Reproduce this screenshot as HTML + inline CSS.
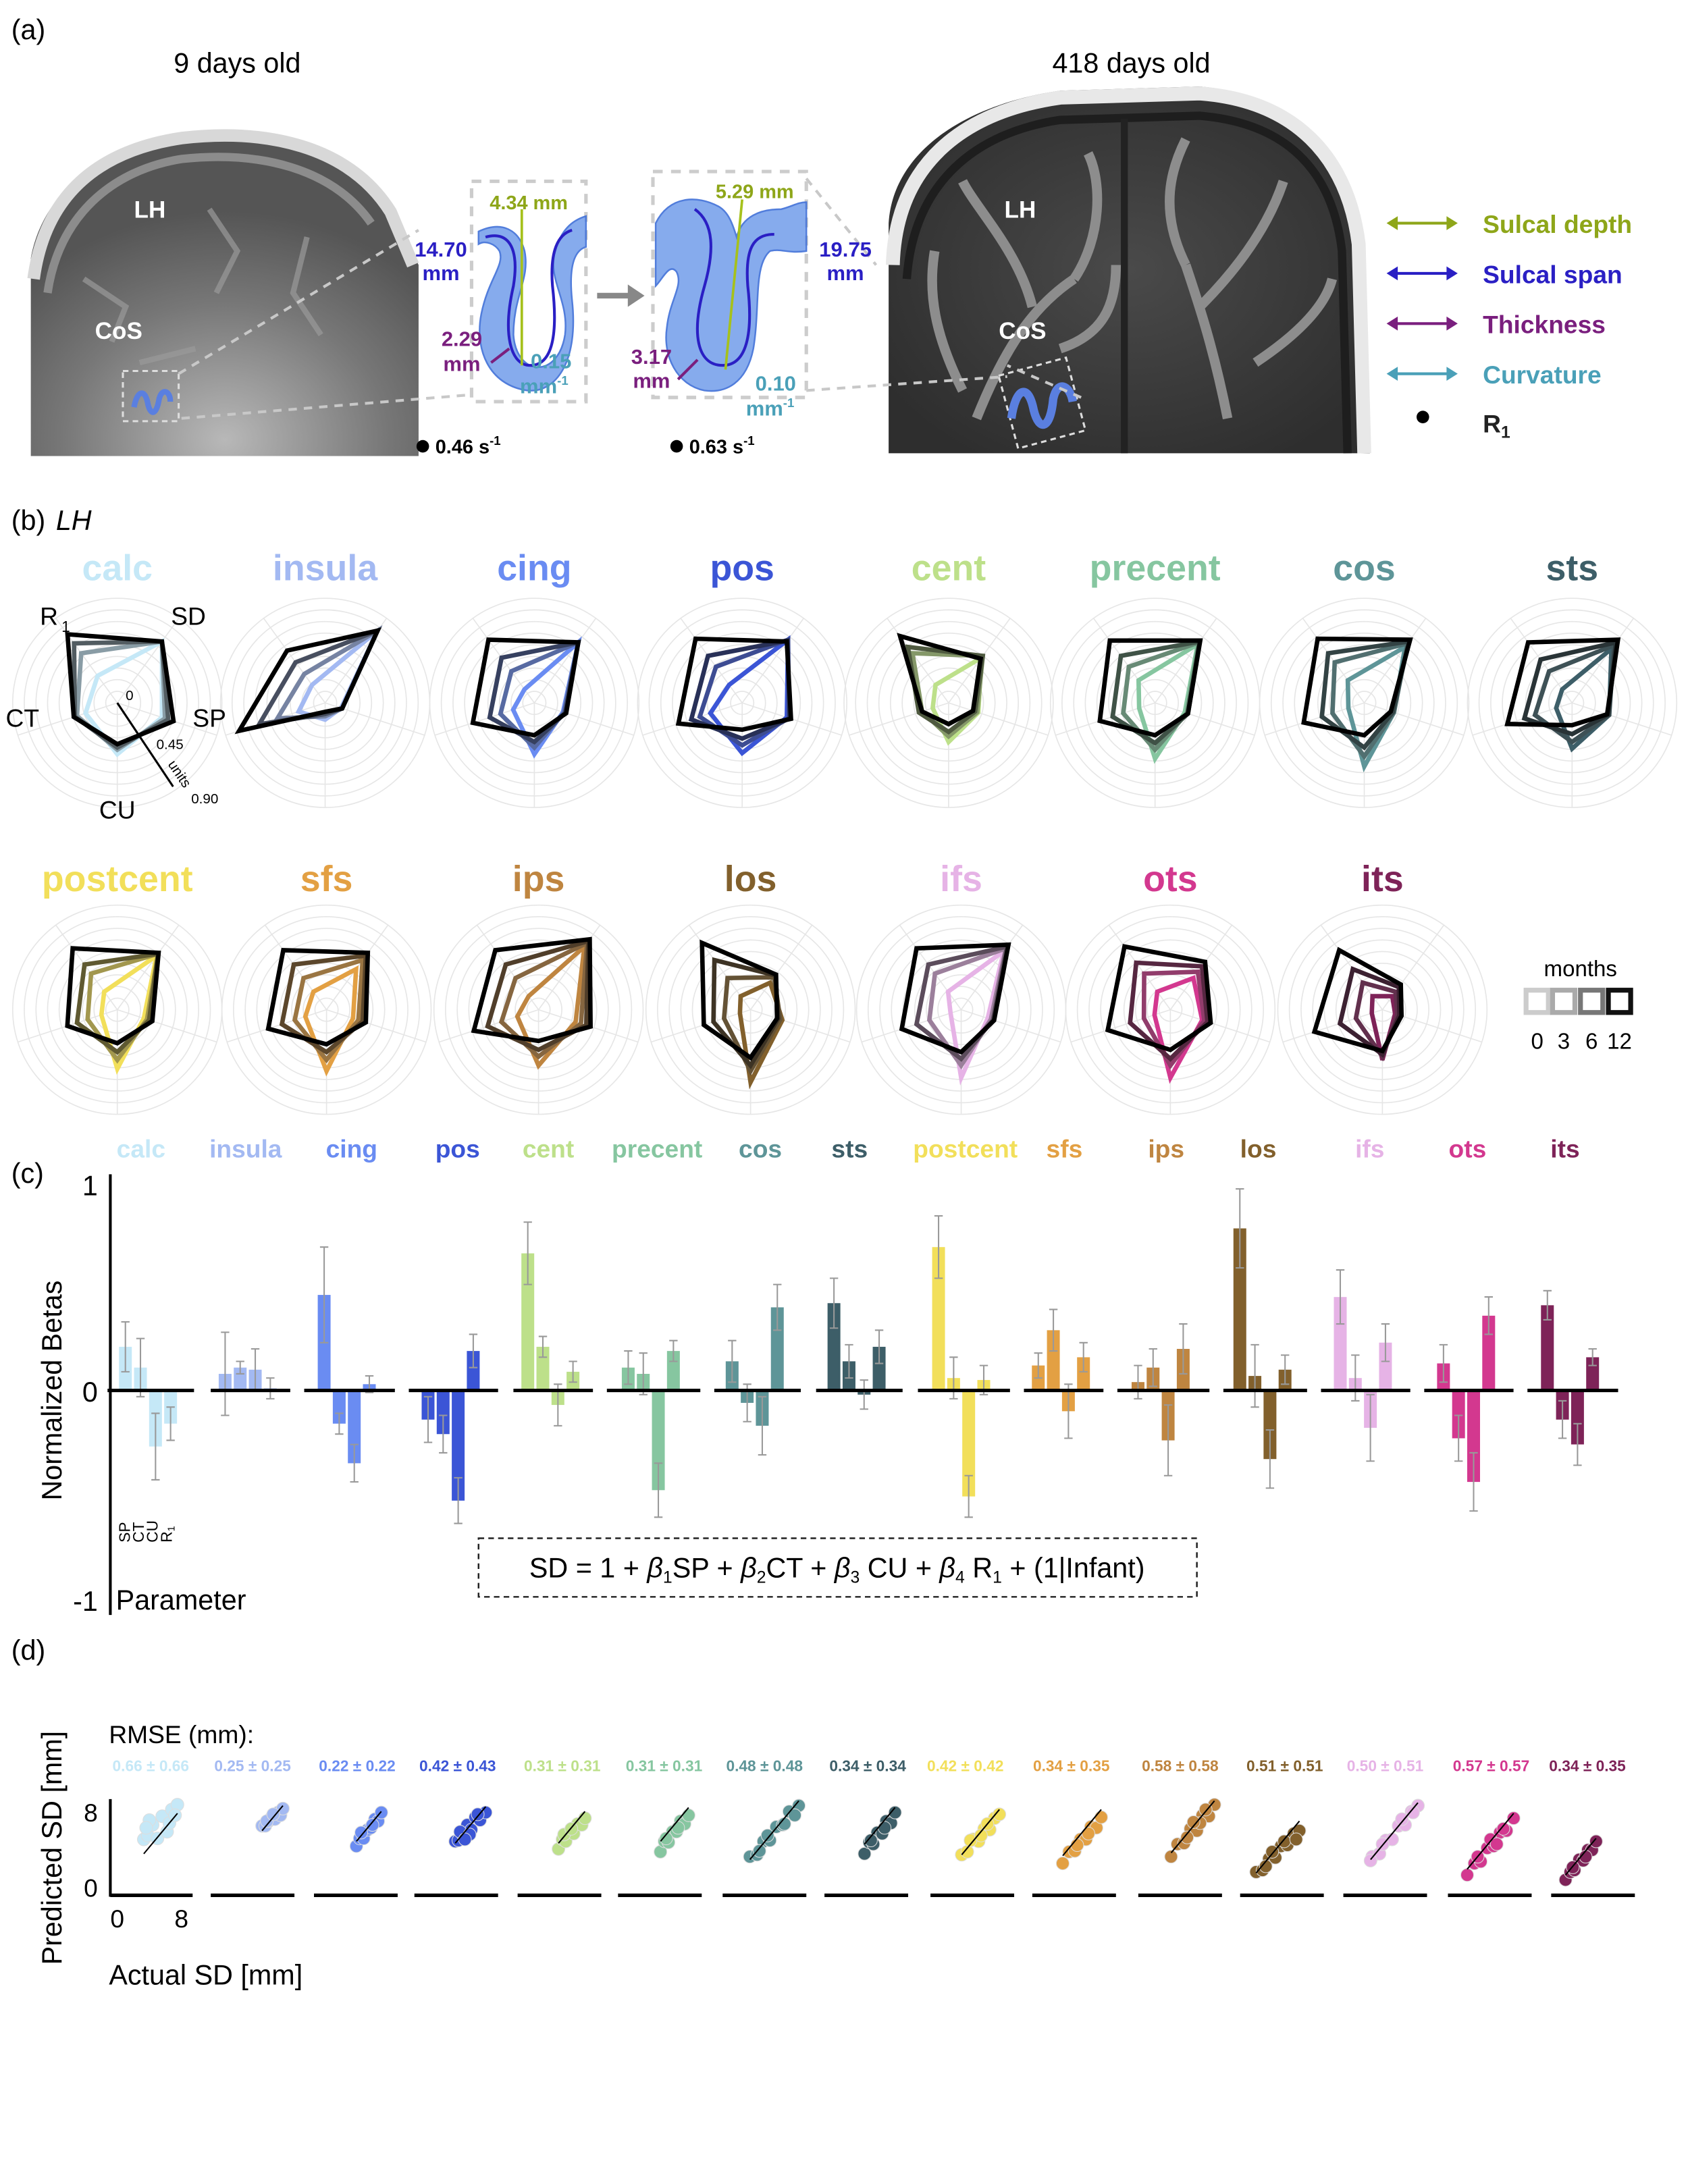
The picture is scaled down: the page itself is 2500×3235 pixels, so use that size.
<!DOCTYPE html>
<html><head><meta charset="utf-8"><style>
html,body{margin:0;padding:0;background:#fff;}
svg{display:block;font-family:"Liberation Sans",sans-serif;}
</style></head><body>
<svg id="fig" width="2500" height="3235" viewBox="0 0 1210 1566" xmlns="http://www.w3.org/2000/svg">
<defs>
<radialGradient id="lg1" cx="0.5" cy="0.95" r="0.7"><stop offset="0" stop-color="#b8b8b8"/><stop offset="0.6" stop-color="#777"/><stop offset="1" stop-color="#555"/></radialGradient>
<radialGradient id="lg2" cx="0.5" cy="0.5" r="0.6"><stop offset="0" stop-color="#4a4a4a"/><stop offset="1" stop-color="#2e2e2e"/></radialGradient>
</defs>
<!-- PART A -->
<g>
<text x="8" y="28" font-size="20">(a)</text>
<text x="170" y="52" font-size="20" text-anchor="middle">9 days old</text>
<text x="811" y="52" font-size="20" text-anchor="middle">418 days old</text>
<g>
<path d="M22,327 L22,185 C30,140 70,105 130,95 C190,88 250,100 282,150 L300,190 L300,327 Z" fill="url(#lg1)"/>
<path d="M24,200 C32,140 70,108 130,99 C190,92 250,104 280,152 L296,190" fill="none" stroke="#d8d8d8" stroke-width="9"/>
<path d="M34,210 C42,155 80,122 130,114 C185,108 238,120 266,160" fill="none" stroke="#8c8c8c" stroke-width="6"/>
<path d="M60,200 l30,20 l-10,25 M150,150 l20,30 l-15,30 M220,170 l-10,40 l20,30 M100,260 l40,-10" stroke="#9a9a9a" stroke-width="4" fill="none" opacity="0.7"/>
<text x="96" y="156" font-size="17" font-weight="bold" fill="#fff">LH</text>
<text x="68" y="243" font-size="17" font-weight="bold" fill="#fff">CoS</text>
<rect x="88" y="266" width="40" height="36" fill="none" stroke="#ddd" stroke-dasharray="4,3" stroke-width="1.5"/>
<path d="M96,292 c2,-12 8,-14 10,-2 c2,8 6,8 8,-4 c2,-8 8,-6 8,2" fill="none" stroke="#5a7fe0" stroke-width="4"/>
</g>
<g>
<path d="M637,325 L637,160 C640,110 690,75 760,65 L860,62 C930,68 970,110 978,170 L982,325 Z" fill="url(#lg2)"/>
<path d="M640,190 C642,118 690,80 760,70 L860,67 C928,72 966,112 974,175 L978,325" fill="none" stroke="#e8e8e8" stroke-width="10"/>
<path d="M650,200 C655,130 700,95 760,86 L860,83 C920,88 955,120 962,180 L966,325" fill="none" stroke="#1e1e1e" stroke-width="6"/>
<line x1="806" y1="85" x2="806" y2="325" stroke="#222" stroke-width="5"/>
<path d="M700,300 C720,250 740,220 770,200 M740,220 C730,180 700,150 690,130 M770,200 C790,170 790,130 780,110 M760,250 C790,240 800,220 800,190 M880,300 C870,250 860,220 850,190 M860,220 C890,190 910,160 920,130 M850,190 C830,150 840,120 850,100 M900,260 C930,240 950,220 955,200 M690,280 C670,240 665,210 670,180" stroke="#8d8d8d" stroke-width="7" fill="none"/>
<text x="720" y="156" font-size="17" font-weight="bold" fill="#fff">LH</text>
<text x="716" y="243" font-size="17" font-weight="bold" fill="#fff">CoS</text>
<rect x="722" y="262" width="50" height="54" fill="none" stroke="#ddd" stroke-dasharray="4,3" stroke-width="1.5" transform="rotate(-15 747 289)"/>
<path d="M725,300 c3,-22 12,-26 16,-6 c4,16 12,14 14,-8 c3,-14 12,-10 14,2" fill="none" stroke="#5a7fe0" stroke-width="6"/>
</g>
<g stroke="#c8c8c8" stroke-width="2" stroke-dasharray="6,5" fill="none">
<line x1="128" y1="268" x2="300" y2="165"/><line x1="130" y1="300" x2="338" y2="283"/>
<line x1="578" y1="128" x2="628" y2="190"/><line x1="578" y1="280" x2="722" y2="270"/>
<line x1="775" y1="285" x2="722" y2="262"/>
</g>
<g>
<rect x="338" y="130" width="82" height="158" fill="none" stroke="#ccc" stroke-width="2.5" stroke-dasharray="7,6"/>
<path d="M343,166 C360,158 372,165 376,180 C380,200 368,212 368,240 C370,270 400,272 405,240 C408,215 392,200 398,180 C402,165 410,158 420,155 L420,177 C410,180 408,195 410,215 C415,260 398,282 378,280 C350,276 340,250 345,225 C350,200 362,190 358,180 C355,175 348,172 343,175 Z" fill="#7aa2ec" stroke="#3f6fd8" stroke-width="1.2" opacity="0.9"/>
<path d="M348,170 C366,165 372,180 368,205 C360,240 366,262 380,262 C396,262 400,240 396,205 C394,180 400,168 410,165" fill="none" stroke="#2a1fc4" stroke-width="2"/>
<line x1="374" y1="262" x2="374" y2="150" stroke="#a6c11c" stroke-width="1.8"/>
<line x1="352" y1="260" x2="365" y2="250" stroke="#7a1f7e" stroke-width="2"/>
<text x="379" y="150" font-size="14" font-weight="bold" fill="#8ea619" text-anchor="middle">4.34 mm</text>
<text x="316" y="184" font-size="15" font-weight="bold" fill="#2a1fc4" text-anchor="middle">14.70</text>
<text x="316" y="201" font-size="15" font-weight="bold" fill="#2a1fc4" text-anchor="middle">mm</text>
<text x="331" y="248" font-size="15" font-weight="bold" fill="#7a1f7e" text-anchor="middle">2.29</text>
<text x="331" y="266" font-size="15" font-weight="bold" fill="#7a1f7e" text-anchor="middle">mm</text>
<text x="395" y="264" font-size="15" font-weight="bold" fill="#4aa0b8" text-anchor="middle">0.15</text>
<text x="390" y="282" font-size="15" font-weight="bold" fill="#4aa0b8" text-anchor="middle">mm<tspan font-size="9" dy="-6">-1</tspan></text>
</g>
<path d="M428,212 L452,212" stroke="#888" stroke-width="4"/>
<path d="M450,204 L462,212 L450,220 Z" fill="#888"/>
<g>
<rect x="468" y="123" width="110" height="162" fill="none" stroke="#ccc" stroke-width="2.5" stroke-dasharray="7,6"/>
<path d="M470,160 C480,140 500,140 515,148 C522,152 525,160 528,170 C532,155 545,150 560,150 C568,148 572,145 578,145 L578,180 C565,182 560,178 552,180 C540,190 545,220 540,250 C535,275 520,282 505,280 C485,276 475,255 478,235 C480,215 490,205 485,195 C480,188 475,200 470,205 Z" fill="#7aa2ec" stroke="#3f6fd8" stroke-width="1.2" opacity="0.9"/>
<path d="M498,150 C512,160 512,180 505,205 C495,240 500,262 518,262 C535,262 540,240 536,205 C534,178 540,168 555,168" fill="none" stroke="#2a1fc4" stroke-width="2"/>
<line x1="520" y1="265" x2="532" y2="143" stroke="#a6c11c" stroke-width="1.8"/>
<line x1="486" y1="272" x2="500" y2="258" stroke="#7a1f7e" stroke-width="2"/>
<text x="541" y="142" font-size="14" font-weight="bold" fill="#8ea619" text-anchor="middle">5.29 mm</text>
<text x="606" y="184" font-size="15" font-weight="bold" fill="#2a1fc4" text-anchor="middle">19.75</text>
<text x="606" y="201" font-size="15" font-weight="bold" fill="#2a1fc4" text-anchor="middle">mm</text>
<text x="467" y="261" font-size="15" font-weight="bold" fill="#7a1f7e" text-anchor="middle">3.17</text>
<text x="467" y="278" font-size="15" font-weight="bold" fill="#7a1f7e" text-anchor="middle">mm</text>
<text x="556" y="280" font-size="15" font-weight="bold" fill="#4aa0b8" text-anchor="middle">0.10</text>
<text x="552" y="298" font-size="15" font-weight="bold" fill="#4aa0b8" text-anchor="middle">mm<tspan font-size="9" dy="-6">-1</tspan></text>
</g>
<circle cx="303" cy="320" r="4.5" fill="#000"/>
<text x="312" y="325" font-size="14" font-weight="bold">0.46 s<tspan font-size="9" dy="-6">-1</tspan></text>
<circle cx="485" cy="320" r="4.5" fill="#000"/>
<text x="494" y="325" font-size="14" font-weight="bold">0.63 s<tspan font-size="9" dy="-6">-1</tspan></text>
<g font-size="18" font-weight="bold">
<g><line x1="996" y1="160" x2="1043" y2="160" stroke="#8ea619" stroke-width="2"/><path d="M994,160 l8,-5 v10z M1045,160 l-8,-5 v10z" fill="#8ea619"/><text x="1063" y="167" fill="#8ea619">Sulcal depth</text></g>
<g><line x1="996" y1="196" x2="1043" y2="196" stroke="#2a1fc4" stroke-width="2"/><path d="M994,196 l8,-5 v10z M1045,196 l-8,-5 v10z" fill="#2a1fc4"/><text x="1063" y="203" fill="#2a1fc4">Sulcal span</text></g>
<g><line x1="996" y1="232" x2="1043" y2="232" stroke="#7a1f7e" stroke-width="2"/><path d="M994,232 l8,-5 v10z M1045,232 l-8,-5 v10z" fill="#7a1f7e"/><text x="1063" y="239" fill="#7a1f7e">Thickness</text></g>
<g><line x1="996" y1="268" x2="1043" y2="268" stroke="#4aa0b8" stroke-width="2"/><path d="M994,268 l8,-5 v10z M1045,268 l-8,-5 v10z" fill="#4aa0b8"/><text x="1063" y="275" fill="#4aa0b8">Curvature</text></g>
<g><circle cx="1020" cy="299" r="4.5" fill="#000"/><text x="1063" y="310" fill="#222">R<tspan font-size="12" dy="4">1</tspan></text></g>
</g>
</g>
<!-- PART B -->
<g id="partB">
<text x="8" y="380" font-size="20">(b)</text>
<text x="40" y="380" font-size="20" font-style="italic">LH</text>
<g>
<text x="1133" y="700" font-size="16" text-anchor="middle">months</text>
<rect x="1094" y="710" width="16" height="16" fill="none" stroke="#ccc" stroke-width="3.5"/>
<rect x="1113" y="710" width="16" height="16" fill="none" stroke="#aaa" stroke-width="3.5"/>
<rect x="1133" y="710" width="16" height="16" fill="none" stroke="#777" stroke-width="3.5"/>
<rect x="1153" y="710" width="16" height="16" fill="none" stroke="#111" stroke-width="3.5"/>
<text x="1102" y="752" font-size="16" text-anchor="middle">0</text>
<text x="1121" y="752" font-size="16" text-anchor="middle">3</text>
<text x="1141" y="752" font-size="16" text-anchor="middle">6</text>
<text x="1161" y="752" font-size="16" text-anchor="middle">12</text>
</g>
</g>
<!-- PART C -->
<g id="partC">
<text x="8" y="848" font-size="20">(c)</text>
<line x1="79" y1="842" x2="79" y2="1158" stroke="#000" stroke-width="2"/>
<text x="70" y="857" font-size="20" text-anchor="end">1</text>
<text x="70" y="1005" font-size="20" text-anchor="end">0</text>
<text x="70" y="1155" font-size="20" text-anchor="end">-1</text>
<text transform="translate(44,997) rotate(-90)" font-size="20" text-anchor="middle">Normalized Betas</text>
<g font-size="11">
<text transform="translate(93,1106) rotate(-90)">SP</text>
<text transform="translate(103,1106) rotate(-90)">CT</text>
<text transform="translate(113,1106) rotate(-90)">CU</text>
<text transform="translate(123,1106) rotate(-90)">R<tspan font-size="7" dy="2">1</tspan></text>
</g>
<text x="83" y="1154" font-size="20">Parameter</text>
<rect x="343" y="1103" width="515" height="42" fill="none" stroke="#222" stroke-width="1.2" stroke-dasharray="4,3"/>
<text x="600" y="1131" font-size="20" text-anchor="middle">SD = 1 + <tspan font-style="italic">β</tspan><tspan font-size="12" dy="4">1</tspan><tspan dy="-4">SP + </tspan><tspan font-style="italic">β</tspan><tspan font-size="12" dy="4">2</tspan><tspan dy="-4">CT + </tspan><tspan font-style="italic">β</tspan><tspan font-size="12" dy="4">3</tspan><tspan dy="-4"> CU + </tspan><tspan font-style="italic">β</tspan><tspan font-size="12" dy="4">4</tspan><tspan dy="-4"> R</tspan><tspan font-size="12" dy="4">1</tspan><tspan dy="-4"> + (1|Infant)</tspan></text>
</g>
<!-- PART D -->
<g id="partD">
<text x="8" y="1190" font-size="20">(d)</text>
<text x="78" y="1250" font-size="18">RMSE (mm):</text>
<line x1="79" y1="1290" x2="79" y2="1360" stroke="#000" stroke-width="2"/>
<text x="70" y="1306" font-size="18" text-anchor="end">8</text>
<text x="70" y="1360" font-size="18" text-anchor="end">0</text>
<text x="84" y="1382" font-size="18" text-anchor="middle">0</text>
<text x="130" y="1382" font-size="18" text-anchor="middle">8</text>
<text transform="translate(44,1325) rotate(-90)" font-size="20" text-anchor="middle">Predicted SD [mm]</text>
<text x="78" y="1423" font-size="20">Actual SD [mm]</text>
</g>
</svg>
<script>
const regions = ["calc","insula","cing","pos","cent","precent","cos","sts","postcent","sfs","ips","los","ifs","ots","its"];
const regionColors = ["#c5e8f7","#a3b9f2","#6a8cf2","#3b55d6","#bde08a","#86c6a0","#5e9598","#3d5e68","#f2df5a","#e3a043","#bf8540","#82602c","#e6b3e6","#d3388f","#7e2358"];
const radarAxes = ["R1","SD","SP","CU","CT"];
const radarM0 = [[0.3,0.68,0.42,0.46,0.3],[0.2,0.8,0.15,0.15,0.25],[0.15,0.67,0.27,0.46,0.2],[0.2,0.7,0.42,0.45,0.3],[0.2,0.5,0.28,0.35,0.15],[0.25,0.65,0.28,0.5,0.15],[0.25,0.62,0.28,0.57,0.15],[0.15,0.6,0.35,0.41,0.15],[0.2,0.6,0.25,0.53,0.15],[0.2,0.45,0.25,0.55,0.2],[0.15,0.7,0.35,0.5,0.2],[0.15,0.3,0.3,0.65,0.1],[0.2,0.65,0.25,0.61,0.1],[0.2,0.35,0.3,0.61,0.15],[0.15,0.15,0.12,0.45,0.1]];
const radarM3 = [[0.55,0.68,0.45,0.42,0.38],[0.32,0.8,0.16,0.12,0.45],[0.35,0.67,0.28,0.4,0.32],[0.4,0.7,0.44,0.38,0.4],[0.55,0.52,0.27,0.3,0.25],[0.4,0.67,0.3,0.42,0.3],[0.45,0.66,0.28,0.48,0.3],[0.35,0.64,0.35,0.35,0.35],[0.4,0.62,0.28,0.45,0.28],[0.35,0.55,0.3,0.45,0.3],[0.35,0.74,0.4,0.42,0.35],[0.35,0.36,0.28,0.55,0.25],[0.4,0.68,0.28,0.5,0.3],[0.4,0.42,0.32,0.5,0.25],[0.3,0.2,0.14,0.42,0.25]];
const radarM6 = [[0.66,0.68,0.48,0.4,0.4],[0.45,0.8,0.16,0.1,0.62],[0.5,0.67,0.29,0.35,0.42],[0.52,0.69,0.45,0.32,0.48],[0.62,0.52,0.25,0.26,0.28],[0.52,0.68,0.31,0.36,0.4],[0.55,0.68,0.27,0.4,0.4],[0.48,0.67,0.34,0.28,0.45],[0.5,0.62,0.3,0.38,0.38],[0.5,0.6,0.34,0.38,0.42],[0.5,0.76,0.45,0.36,0.48],[0.55,0.38,0.26,0.5,0.35],[0.5,0.7,0.3,0.44,0.42],[0.52,0.48,0.35,0.44,0.38],[0.45,0.25,0.16,0.4,0.4]];
const radarM12 = [[0.76,0.68,0.53,0.37,0.41],[0.58,0.8,0.16,0.08,0.81],[0.7,0.67,0.3,0.29,0.58],[0.71,0.68,0.46,0.24,0.6],[0.74,0.49,0.23,0.19,0.25],[0.69,0.69,0.31,0.29,0.52],[0.71,0.7,0.25,0.29,0.57],[0.67,0.7,0.33,0.2,0.61],[0.68,0.63,0.33,0.3,0.47],[0.66,0.63,0.37,0.31,0.55],[0.66,0.78,0.49,0.28,0.61],[0.74,0.39,0.25,0.43,0.44],[0.68,0.72,0.31,0.38,0.56],[0.7,0.53,0.38,0.36,0.59],[0.66,0.28,0.18,0.37,0.64]];
const betaSP = [0.21,0.08,0.46,-0.14,0.66,0.11,0.14,0.42,0.69,0.12,0.04,0.78,0.45,0.13,0.41];
const betaCT = [0.11,0.11,-0.16,-0.21,0.21,0.08,-0.06,0.14,0.06,0.29,0.11,0.07,0.06,-0.23,-0.14];
const betaCU = [-0.27,0.1,-0.35,-0.53,-0.07,-0.48,-0.17,-0.02,-0.51,-0.1,-0.24,-0.33,-0.18,-0.44,-0.26];
const betaR1 = [-0.16,0.01,0.03,0.19,0.09,0.19,0.4,0.21,0.05,0.16,0.2,0.1,0.23,0.36,0.16];
const errSP = [0.12,0.2,0.23,0.11,0.15,0.08,0.1,0.12,0.15,0.06,0.08,0.19,0.13,0.09,0.07];
const errCT = [0.14,0.03,0.05,0.09,0.05,0.1,0.09,0.08,0.1,0.1,0.09,0.15,0.11,0.11,0.09];
const errCU = [0.16,0.1,0.09,0.11,0.1,0.13,0.14,0.07,0.1,0.13,0.17,0.14,0.16,0.14,0.1];
const errR1 = [0.08,0.05,0.04,0.08,0.05,0.05,0.11,0.08,0.07,0.07,0.12,0.07,0.09,0.09,0.04];
const rmseLabels = ["0.66 ± 0.66","0.25 ± 0.25","0.22 ± 0.22","0.42 ± 0.43","0.31 ± 0.31","0.31 ± 0.31","0.48 ± 0.48","0.34 ± 0.34","0.42 ± 0.42","0.34 ± 0.35","0.58 ± 0.58","0.51 ± 0.51","0.50 ± 0.51","0.57 ± 0.57","0.34 ± 0.35"];
const actualSD = [[3.3,3.8,4.4,5.0,5.6,6.2,6.8,7.5,4.0,6.5,3.6,7.2],[5.7,6.1,6.5,6.9,7.3,7.7,8.0,8.3,6.3,7.1],[4.6,5.0,5.5,6.0,6.4,6.9,7.3,7.7,5.2,6.6],[4.4,4.8,5.4,5.9,6.4,6.9,7.5,8.2,5.0,6.2,7.2,5.6],[4.4,4.9,5.3,5.8,6.3,6.8,7.3,7.7,5.1,6.0],[4.6,5.1,5.6,6.1,6.6,7.1,7.6,8.1,5.3,6.8],[2.7,3.6,4.4,5.2,6.0,6.8,7.6,8.8,4.9,7.0,8.3,3.9],[4.3,4.9,5.4,5.9,6.5,7.0,7.6,8.1,5.1,6.8],[3.2,3.9,4.6,5.3,6.0,6.7,7.3,7.9,4.3,6.4,5.6],[3.1,3.9,4.6,5.3,6.0,6.6,7.3,7.9,4.9,6.3],[3.4,4.2,5.0,5.8,6.6,7.3,8.1,8.8,5.4,7.0,6.2,7.7],[1.3,2.1,2.9,3.7,4.4,5.2,6.0,6.7,2.5,4.8,3.3,6.3],[2.9,3.8,4.6,5.4,6.2,7.0,7.8,8.6,4.2,6.6,2.7,8.0],[1.7,2.6,3.4,4.2,5.0,5.8,6.6,7.5,3.0,4.6,5.4,6.2],[1.1,1.7,2.2,2.8,3.3,3.9,4.4,4.9,2.0,3.6]];
const predictedSD = [[4.8,5.2,6.3,4.9,7.2,5.6,7.9,8.4,6.8,6.5,6.0,7.3],[6.2,6.2,6.7,7.1,6.9,7.6,7.3,8.0,6.7,7.4],[4.1,4.9,4.9,5.8,6.0,6.9,6.7,7.6,5.5,6.3],[4.6,4.7,5.2,6.3,5.8,7.1,6.8,7.6,5.6,5.3,7.4,4.8],[3.8,4.8,4.6,5.6,5.4,6.4,6.3,7.0,5.3,5.9],[3.5,4.6,4.5,5.6,5.6,6.7,6.4,7.3,4.9,6.0],[3.0,3.2,4.6,4.7,6.1,6.3,7.7,8.3,5.2,6.4,7.3,3.6],[3.3,4.5,4.3,5.5,5.4,6.7,6.5,7.6,4.7,6.0],[3.2,3.5,4.8,4.6,5.9,5.8,7.0,7.4,4.7,6.4,5.2],[2.3,3.5,3.6,4.8,4.8,6.1,6.0,7.1,4.2,5.4],[3.0,4.3,4.4,5.9,5.7,7.3,7.2,8.4,5.0,6.5,6.6,7.9],[1.4,1.6,2.8,2.9,4.1,4.2,5.4,5.7,2.0,4.6,3.5,4.8],[3.0,3.3,4.7,4.8,6.2,6.3,7.7,8.3,4.3,6.9,2.6,7.6],[1.1,2.3,2.5,3.9,4.1,5.5,5.7,7.0,3.0,4.8,4.3,5.9],[0.6,1.4,1.6,2.7,2.6,3.7,3.7,4.6,1.9,3.0]];

const NS = "http://www.w3.org/2000/svg";
function mk(parent, tag, attrs, name){
  const e = document.createElementNS(NS, tag);
  for (const k in attrs) e.setAttribute(k, attrs[k]);
  
  
  parent.appendChild(e);
  return e;
}
function mix(hex, hex2, t){
  const a=[1,3,5].map(i=>parseInt(hex.substr(i,2),16)), b=[1,3,5].map(i=>parseInt(hex2.substr(i,2),16));
  return "rgb("+a.map((v,i)=>Math.round(v*(1-t)+b[i]*t)).join(",")+")";
}

/* ---------- Part B radars ---------- */
const gB = document.getElementById('partB');
const radarCX = [84,233,383,532,680,828,978,1127,84,234,386,538,689,839,991];
const radarCY = [504,504,504,504,504,504,504,504,724,724,724,724,724,724,724];
const titleY = [416,416,416,416,416,416,416,416,639,639,639,639,639,639,639];
const axisAng = [126,54,-18,-90,198].map(d=>d*Math.PI/180);
const pxPerUnit = 80;
function rx(cx, a, v){ return cx + Math.cos(axisAng[a])*v*pxPerUnit; }
function ry(cy, a, v){ return cy - Math.sin(axisAng[a])*v*pxPerUnit; }
regions.forEach((r,i)=>{
  const g = mk(gB,'g',{},'radar-'+r);
  const cx = radarCX[i], cy = radarCY[i];
  for (let k=1;k<=9;k++){
    mk(g,'circle',{cx:cx,cy:cy,r:(k*75/9).toFixed(1),fill:'none',stroke:'#e6e6e6','stroke-width':0.8},'radar-ring');
  }
  for (let a=0;a<5;a++){
    mk(g,'line',{x1:cx,y1:cy,x2:rx(cx,a,75/80),y2:ry(cy,a,75/80),stroke:'#e6e6e6','stroke-width':0.8},'radar-spoke');
  }
  const t = mk(g,'text',{x:cx,y:titleY[i],'font-size':26,'font-weight':'bold','text-anchor':'middle',fill:regionColors[i]},'radar-title-'+r);
  t.textContent = r;
  const sets = [radarM0[i],radarM3[i],radarM6[i],radarM12[i]];
  const cols = [regionColors[i], mix(regionColors[i],'#404040',0.45), mix(regionColors[i],'#202020',0.7), '#000'];
  const mnames = ['0','3','6','12'];
  sets.forEach((vals,m)=>{
    const pts = vals.map((v,a)=>rx(cx,a,v).toFixed(1)+","+ry(cy,a,v).toFixed(1)).join(" ");
    mk(g,'polygon',{points:pts,fill:'none',stroke:cols[m],'stroke-width':3.2,'stroke-linejoin':'miter'},'radar-polygon-'+r+'-month-'+mnames[m]);
  });
});
(function(){
  const g = mk(gB,'g',{'font-size':18},'radar-axis-labels');
  const labs = [["R",35,448],["SD",135,448],["SP",150,521],["CU",84,587],["CT",16,521]];
  labs.forEach(l=>{ const t = mk(g,'text',{x:l[1],y:l[2],'text-anchor':'middle'},'axis-label-'+l[0].toLowerCase()); t.textContent=l[0]; });
  const s = mk(g,'text',{x:44,y:453,'font-size':11},'axis-label-r1-subscript'); s.textContent='1';
  mk(g,'line',{x1:84,y1:504,x2:124,y2:564,stroke:'#000','stroke-width':1.5},'radar-scale-line');
  const z = mk(g,'text',{x:90,y:502,'font-size':10},'radar-scale-0'); z.textContent='0';
  const h = mk(g,'text',{x:112,y:537,'font-size':10},'radar-scale-045'); h.textContent='0.45';
  const n = mk(g,'text',{x:137,y:576,'font-size':10},'radar-scale-090'); n.textContent='0.90';
  const u = mk(g,'text',{'font-size':10,transform:'translate(120,548) rotate(56)'},'radar-scale-units'); u.textContent='units';
})();

/* ---------- Part C bars ---------- */
const gC = document.getElementById('partC');
const y0 = 997, pxBeta = 149;
function yb(v){ return y0 - v*pxBeta; }
const segStart = [77,151,218,293,368,435,512,585,658,734,801,877,947,1021,1095];
const segEnd = [139,208,283,357,425,502,574,647,724,791,867,937,1011,1085,1160];
const labelX = [101,176,252,328,393,471,545,609,692,763,836,902,982,1052,1122];
const paramNames = ['sp','ct','cu','r1'];
regions.forEach((r,i)=>{
  const g = mk(gC,'g',{},'beta-group-'+r);
  const t = mk(g,'text',{x:labelX[i],y:830,'font-size':18,'font-weight':'bold','text-anchor':'middle',fill:regionColors[i]},'beta-label-'+r);
  t.textContent = r;
  const center = (segStart[i]+segEnd[i])/2 - 2;
  const vals = [betaSP[i],betaCT[i],betaCU[i],betaR1[i]];
  const errs = [errSP[i],errCT[i],errCU[i],errR1[i]];
  vals.forEach((v,k)=>{
    const bx = center + (k-1.5)*10.8;
    mk(g,'rect',{x:(bx-4.6).toFixed(1),y:Math.min(yb(v),y0).toFixed(1),width:9.2,height:Math.abs(yb(v)-y0).toFixed(1),fill:regionColors[i]},'bar-'+r+'-'+paramNames[k]);
    const e1 = yb(v+errs[k]), e2 = yb(v-errs[k]);
    mk(g,'path',{d:`M${bx},${e1}V${e2}M${bx-3},${e1}h6M${bx-3},${e2}h6`,stroke:'#999','stroke-width':1,fill:'none'},'errorbar-'+r+'-'+paramNames[k]);
  });
  mk(g,'line',{x1:segStart[i],y1:y0,x2:segEnd[i],y2:y0,stroke:'#000','stroke-width':2.5},'zero-line-'+r);
});

/* ---------- Part D scatter ---------- */
const gD = document.getElementById('partD');
const panelL = [80,151,225,297,371,443,518,591,667,740,816,889,963,1038,1112];
const rmseX = [108,181,256,328,403,476,548,622,692,768,846,921,993,1069,1138];
const pxA = 5.75, pxP = 6.9, baseP = 1352;
function xa(i,v){ return panelL[i]+4+v*pxA; }
function yp(v){ return baseP - v*pxP; }
regions.forEach((r,i)=>{
  const g = mk(gD,'g',{},'scatter-'+r);
  const t = mk(g,'text',{x:rmseX[i],y:1270,'font-size':11,'font-weight':'bold','text-anchor':'middle',fill:regionColors[i]},'rmse-'+r);
  t.textContent = rmseLabels[i];
  actualSD[i].forEach((a,k)=>{
    mk(g,'circle',{cx:xa(i,a).toFixed(1),cy:yp(predictedSD[i][k]).toFixed(1),r:4.6,fill:regionColors[i],stroke:'#ddd','stroke-width':0.5},'point-'+r);
  });
  const A = actualSD[i];
  const amin=Math.min(...A), amax=Math.max(...A);
  mk(g,'line',{x1:xa(i,amin),y1:yp(amin),x2:xa(i,amax),y2:yp(amax),stroke:'#000','stroke-width':1},'fit-line-'+r);
  mk(g,'line',{x1:panelL[i]-(i===0?1:0),y1:1359,x2:panelL[i]+(i===0?58:60),y2:1359,stroke:'#000','stroke-width':2.5},'x-axis-'+r);
});
</script>
</body></html>
